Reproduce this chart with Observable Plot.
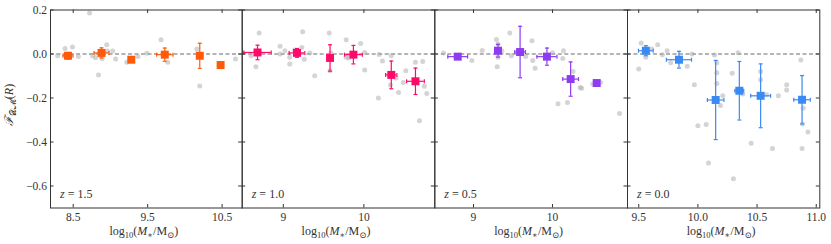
<!DOCTYPE html>
<html><head><meta charset="utf-8">
<script src="https://cdn.jsdelivr.net/npm/d3@7"></script>
<script src="https://cdn.jsdelivr.net/npm/@observablehq/plot@0.6"></script>
<style>
body{margin:0;background:#fff}
#chart{position:relative;width:831px;height:244px}
#chart svg{position:absolute;left:0;top:0}
</style>
</head><body><div id="chart"></div>
<script>
// ---- data ----
const redshifts = ["1.5", "1.0", "0.5", "0.0"];
const colors = ["#ff5a0a", "#ff0a6a", "#8d3cf0", "#3a8af5"];
const yTicks = [0.2, 0.0, -0.2, -0.4, -0.6];

const xTicks15 = [8.5, 9.5, 10.5];
const xTickLabels15 = ["8.5", "9.5", "10.5"];
const xTicks10 = [9, 10];
const xTickLabels10 = ["9", "10"];
const xTicks05 = [9, 10];
const xTickLabels05 = ["9", "10"];
const xTicks00 = [9.5, 10.0, 10.5, 11.0];
const xTickLabels00 = ["9.5", "10.0", "10.5", "11.0"];

// binned medians (squares) with errors
const bin15X = [8.43, 8.88, 9.28, 9.73, 10.20, 10.48];
const bin15Y = [-0.008, 0.005, -0.026, -0.003, -0.008, -0.050];
const bin15XErr = [0.067, 0.10, 0, 0.11, 0, 0];
const bin15YErr = [0.015, 0.023, 0, 0.03, 0.057, 0];

const bin10X = [8.68, 9.17, 9.58, 9.87, 10.34, 10.64];
const bin10Y = [0.007, 0.005, -0.018, -0.003, -0.095, -0.124];
const bin10XErr = [0.17, 0.097, 0, 0.11, 0.07, 0.11];
const bin10YErr = [0.033, 0.02, 0.06, 0.042, 0.063, 0.06];

const bin05X = [8.80, 9.31, 9.59, 9.93, 10.23, 10.56];
const bin05Y = [-0.012, 0.015, 0.009, -0.012, -0.114, -0.132];
const bin05XErr = [0.125, 0, 0.067, 0.127, 0.10, 0];
const bin05YErr = [0, 0.029, 0.117, 0.039, 0.078, 0];

const bin00X = [9.56, 9.84, 10.15, 10.35, 10.53, 10.88];
const bin00Y = [0.015, -0.026, -0.209, -0.167, -0.19, -0.208];
const bin00XErr = [0.062, 0.106, 0.07, 0.037, 0.084, 0.07];
const bin00YErr = [0.023, 0.038, 0.18, 0.133, 0.145, 0.11];

// individual galaxies (grey points)
const gal15X = [8.72, 8.39, 8.49, 8.29, 8.57, 8.76, 8.80, 8.89, 8.95, 8.96, 9.03, 9.07, 8.84, 9.22, 9.37, 9.49, 9.68, 9.77, 10.16, 10.20, 10.68];
const gal15Y = [0.186, 0.025, 0.032, -0.008, -0.011, -0.008, -0.017, -0.02, 0.042, 0.014, 0.014, -0.023, -0.095, -0.038, -0.011, 0.003, 0.065, -0.038, 0.023, -0.145, -0.023];

const gal10X = [8.70, 8.60, 8.66, 8.96, 8.96, 9.02, 9.08, 9.08, 9.14, 9.23, 9.24, 9.26, 9.33, 9.39, 9.57, 9.59, 9.58, 9.78, 9.78, 9.81, 9.96, 10.01, 10.01, 10.19, 10.23, 10.34, 10.33, 10.40, 10.43, 10.49, 10.52, 10.18, 10.64, 10.73, 10.75, 10.78, 10.69];
const gal10Y = [0.095, -0.008, -0.058, 0.035, 0.0, 0.015, -0.015, -0.045, 0.018, 0.03, 0.101, -0.024, 0.005, -0.099, 0.095, 0.005, -0.076, 0.065, -0.015, -0.018, 0.048, 0.007, -0.073, -0.002, -0.032, -0.008, -0.141, -0.109, -0.175, -0.13, -0.076, -0.2, -0.038, -0.034, -0.147, -0.179, -0.303];

const gal05X = [8.62, 8.98, 9.11, 9.29, 9.31, 9.30, 9.31, 9.36, 9.46, 9.48, 9.66, 9.74, 9.75, 9.78, 10.0, 10.13, 10.14, 10.26, 10.35, 10.37, 10.51, 10.61, 10.07, 10.19, 10.85];
const gal05Y = [0.005, -0.03, 0.016, 0.066, 0.045, -0.058, -0.015, 0.015, 0.095, -0.008, -0.011, 0.06, -0.03, -0.065, 0.006, -0.02, 0.015, -0.079, -0.152, -0.156, -0.136, -0.129, -0.226, -0.22, -0.271];

const gal00X = [9.52, 9.50, 9.56, 9.61, 9.66, 9.70, 9.74, 9.77, 9.91, 9.95, 9.97, 10.00, 10.07, 10.09, 10.14, 10.16, 10.16, 10.16, 10.21, 10.19, 10.29, 10.34, 10.38, 10.30, 10.45, 10.53, 10.53, 10.58, 10.63, 10.68, 10.75, 10.75, 10.87, 10.89, 10.885, 10.93, 10.88];
const gal00Y = [0.05, -0.068, -0.015, 0.023, 0.042, -0.003, 0.015, -0.04, -0.056, 0.0, -0.14, -0.326, -0.321, -0.495, -0.005, -0.04, -0.085, -0.134, -0.19, -0.234, -0.088, 0.006, -0.182, -0.567, -0.406, -0.079, -0.117, -0.185, -0.43, -0.19, -0.164, -0.14, -0.027, -0.247, -0.318, -0.355, -0.43];

// ---- layout ----
const W = 831, H = 244, MT = 9.5, MB = 36.5;
const panelLeft = [50, 241.7, 434.3, 627];
const panelRight = [241.7, 434.3, 627, 819.3];
const xDomains = [[8.195, 10.77], [8.49, 10.88], [8.51, 10.95], [9.405, 11.03]];
const FONT = "'Liberation Serif', 'DejaVu Serif', serif";
const INK = "#333";

const panels = [
  {bx: bin15X, by: bin15Y, bxe: bin15XErr, bye: bin15YErr, gx: gal15X, gy: gal15Y, xt: xTicks15, xl: xTickLabels15},
  {bx: bin10X, by: bin10Y, bxe: bin10XErr, bye: bin10YErr, gx: gal10X, gy: gal10Y, xt: xTicks10, xl: xTickLabels10},
  {bx: bin05X, by: bin05Y, bxe: bin05XErr, bye: bin05YErr, gx: gal05X, gy: gal05Y, xt: xTicks05, xl: xTickLabels05},
  {bx: bin00X, by: bin00Y, bxe: bin00XErr, bye: bin00YErr, gx: gal00X, gy: gal00Y, xt: xTicks00, xl: xTickLabels00}
];

const hCap = {draw(ctx, size) { const h = Math.sqrt(size / Math.PI); ctx.moveTo(-h, 0); ctx.lineTo(h, 0); }};
const vCap = {draw(ctx, size) { const h = Math.sqrt(size / Math.PI); ctx.moveTo(0, -h); ctx.lineTo(0, h); }};

const chart = document.getElementById("chart");

panels.forEach((p, i) => {
  const c = colors[i];
  const left = panelLeft[i], right = panelRight[i];
  const pw = right - left, ph = H - MT - MB;
  const bins = p.bx.map((x, k) => ({x, y: p.by[k], xe: p.bxe[k], ye: p.bye[k]}));
  const gals = p.gx.map((x, k) => ({x, y: p.gy[k]}));
  const wy = bins.filter(d => d.ye > 0);
  const wx = bins.filter(d => d.xe > 0);
  const marks = [
    Plot.ruleY([0], {stroke: "#6a6a6a", strokeDasharray: "4,2.5", strokeWidth: 1.1}),
    Plot.dot(gals, {x: "x", y: "y", r: 2.5, fill: "#aaaaaa", fillOpacity: 0.5}),
    Plot.ruleX(wy, {x: "x", y1: d => d.y - d.ye, y2: d => d.y + d.ye, stroke: c, strokeWidth: 1.2}),
    Plot.ruleY(wx, {y: "y", x1: d => d.x - d.xe, x2: d => d.x + d.xe, stroke: c, strokeWidth: 1.2}),
    Plot.dot(wy, {x: "x", y: d => d.y + d.ye, symbol: hCap, r: 2, stroke: c, fill: "none", strokeWidth: 1.2}),
    Plot.dot(wy, {x: "x", y: d => d.y - d.ye, symbol: hCap, r: 2, stroke: c, fill: "none", strokeWidth: 1.2}),
    Plot.dot(wx, {x: d => d.x + d.xe, y: "y", symbol: vCap, r: 2, stroke: c, fill: "none", strokeWidth: 1.2}),
    Plot.dot(wx, {x: d => d.x - d.xe, y: "y", symbol: vCap, r: 2, stroke: c, fill: "none", strokeWidth: 1.2}),
    Plot.dot(bins, {x: "x", y: "y", symbol: "square", r: 4.5, fill: c}),
    Plot.frame({stroke: INK, strokeWidth: 1}),
    Plot.tickX(p.xt, {x: d => d, insetTop: ph - 3.5, stroke: INK}),
    Plot.tickX(p.xt, {x: d => d, insetBottom: ph - 3.5, stroke: INK}),
    Plot.tickY(yTicks, {y: d => d, insetRight: pw - 3.5, stroke: INK}),
    Plot.tickY(yTicks, {y: d => d, insetLeft: pw - 3.5, stroke: INK}),
    Plot.axisX({ticks: p.xt, tickSize: 0, tickPadding: 5, tickFormat: d => p.xl[p.xt.indexOf(d)], label: null})
  ];
  if (i === 0) {
    marks.push(Plot.axisY({ticks: yTicks, tickSize: 0, tickPadding: 3.5, tickFormat: d3.format(".1f"), label: null}));
  }
  const plot = Plot.plot({
    width: W, height: H,
    marginLeft: left, marginRight: W - right, marginTop: MT, marginBottom: MB,
    x: {domain: xDomains[i]},
    y: {domain: [-0.7, 0.2], axis: i === 0 ? undefined : null},
    style: {fontFamily: FONT, fontSize: "11.5px", color: INK, background: "transparent", overflow: "visible"},
    marks
  });
  const svg = d3.select(plot);
  // redshift label
  const zt = svg.append("text").attr("x", left + 10).attr("y", 197.5).attr("text-anchor", "start")
    .attr("font-family", FONT).attr("font-size", 12).attr("fill", INK);
  zt.append("tspan").attr("font-style", "italic").text("z");
  zt.append("tspan").text(" = " + redshifts[i]);
  // x label
  const xl = svg.append("text").attr("x", (left + right) / 2 - 2).attr("y", 235)
    .attr("text-anchor", "middle").attr("font-family", FONT).attr("font-size", 12).attr("fill", INK);
  xl.append("tspan").text("log");
  xl.append("tspan").attr("font-size", 8.5).attr("dy", 3).text("10");
  xl.append("tspan").attr("dy", -3).text("(");
  xl.append("tspan").attr("font-style", "italic").text("M");
  xl.append("tspan").attr("font-size", 8.5).attr("dy", 2.5).text("∗");
  xl.append("tspan").attr("dy", -2.5).text("/M");
  xl.append("tspan").attr("font-size", 8.5).attr("dy", 2.5).text("⊙");
  xl.append("tspan").attr("dy", -2.5).text(")");
  if (i === 0) {
    const yl = svg.append("text").attr("transform", "translate(13,105) rotate(-90)")
      .attr("text-anchor", "middle").attr("font-family", FONT).attr("font-size", 12).attr("fill", INK);
    yl.append("tspan").attr("font-style", "italic").text("ℱ");
    yl.append("tspan").attr("font-size", 8.5).attr("dy", 2.5).text("𝒟ℳ");
    yl.append("tspan").attr("dy", -2.5).text("(");
    yl.append("tspan").attr("font-style", "italic").text("R");
    yl.append("tspan").text(")");
  }
  chart.appendChild(plot);
});
</script>
</body></html>
